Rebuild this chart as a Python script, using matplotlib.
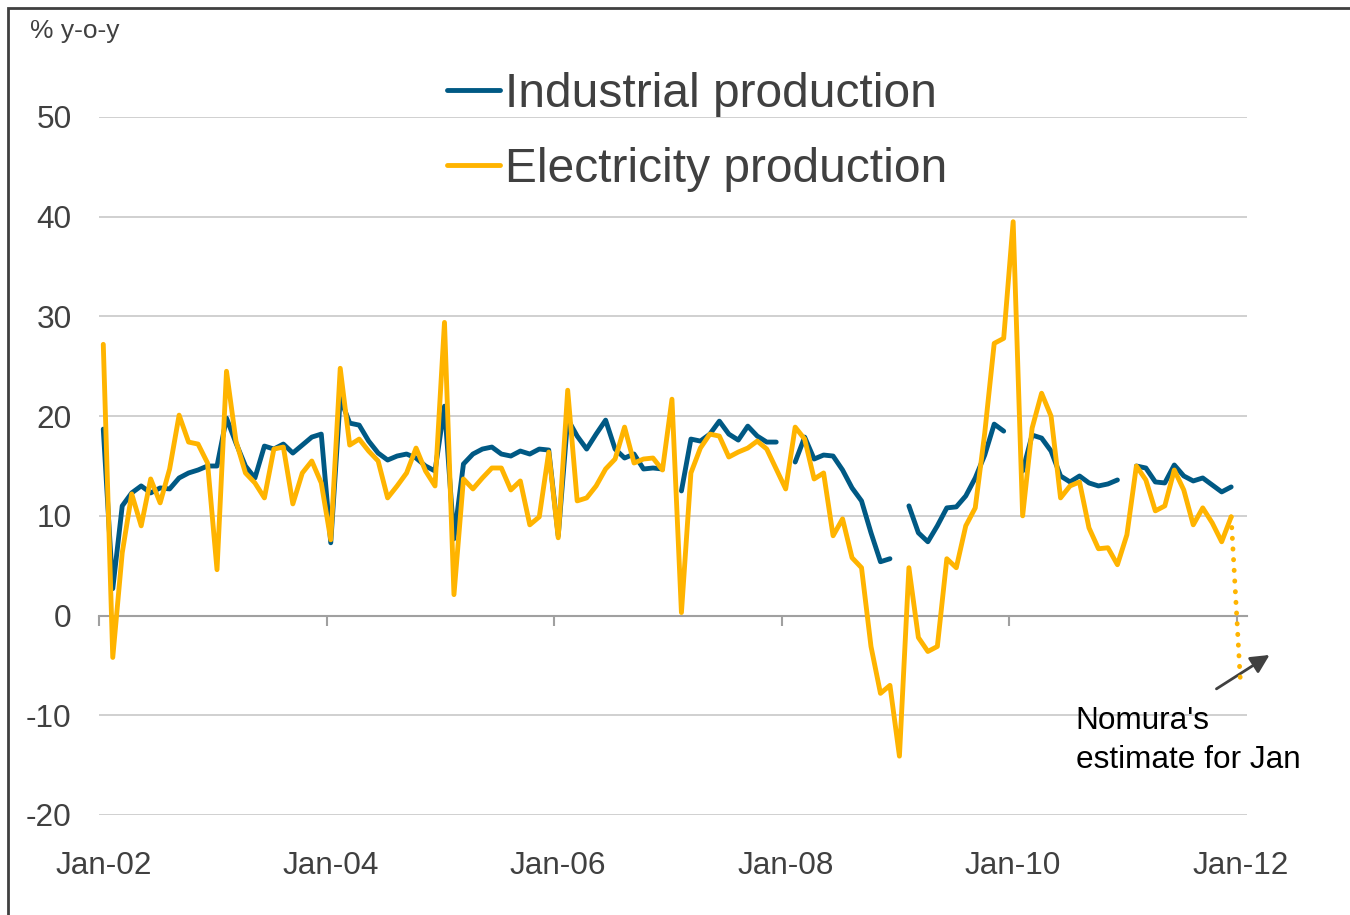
import numpy as np
import matplotlib.pyplot as plt
from matplotlib.patches import Rectangle

plt.rcParams['font.family'] = ['Liberation Sans', 'DejaVu Sans']
plt.rcParams['axes.unicode_minus'] = False

# monthly y-o-y growth, Jan-02 .. Dec-11 (nan = not published)
industrial = [
    18.7, 2.7, 11.0, 12.3, 13.0, 12.3, 12.8, 12.7, 13.8, 14.3, 14.6, 15.0,   # 2002
    15.0, 19.8, 17.3, 15.0, 13.8, 17.0, 16.7, 17.2, 16.3, 17.1, 17.9, 18.2,  # 2003
    7.3, 21.8, 19.3, 19.1, 17.5, 16.3, 15.6, 16.0, 16.2, 15.8, 15.0, 14.5,   # 2004
    21.0, 7.7, 15.2, 16.2, 16.7, 16.9, 16.2, 16.0, 16.5, 16.2, 16.7, 16.6,   # 2005
    8.0, 19.7, 18.0, 16.7, 18.2, 19.6, 16.7, 15.8, 16.2, 14.7, 14.8, 14.7,   # 2006
    np.nan, 12.5, 17.7, 17.5, 18.2, 19.5, 18.2, 17.6, 19.0, 18.0, 17.4, 17.4,  # 2007
    np.nan, 15.4, 17.9, 15.7, 16.1, 16.0, 14.6, 12.8, 11.5, 8.3, 5.4, 5.7,     # 2008
    np.nan, 11.0, 8.3, 7.4, 9.0, 10.8, 10.9, 12.0, 13.8, 16.1, 19.2, 18.5,     # 2009
    np.nan, 14.5, 18.1, 17.8, 16.5, 14.0, 13.4, 14.0, 13.3, 13.0, 13.2, 13.6,  # 2010
    np.nan, 15.0, 14.8, 13.4, 13.3, 15.1, 14.0, 13.5, 13.8, 13.1, 12.4, 12.9,  # 2011
]
electricity = [
    27.2, -4.2, 6.3, 12.2, 9.0, 13.7, 11.3, 14.7, 20.1, 17.4, 17.2, 15.3,    # 2002
    4.6, 24.5, 17.5, 14.3, 13.3, 11.8, 16.7, 16.9, 11.2, 14.3, 15.5, 13.3,   # 2003
    7.6, 24.8, 17.1, 17.7, 16.5, 15.5, 11.8, 13.0, 14.3, 16.8, 14.5, 13.0,   # 2004
    29.4, 2.1, 13.7, 12.7, 13.8, 14.8, 14.8, 12.6, 13.5, 9.1, 9.9, 16.4,     # 2005
    7.8, 22.6, 11.5, 11.8, 13.0, 14.7, 15.7, 18.9, 15.3, 15.7, 15.8, 14.6,   # 2006
    21.7, 0.3, 14.3, 16.8, 18.2, 18.0, 15.9, 16.4, 16.8, 17.5, 16.7, 14.7,   # 2007
    12.7, 18.9, 17.7, 13.7, 14.3, 8.0, 9.7, 5.8, 4.8, -3.1, -7.8, -7.0,      # 2008
    -14.1, 4.8, -2.2, -3.6, -3.1, 5.7, 4.8, 9.0, 10.8, 18.3, 27.3, 27.8,     # 2009
    39.5, 10.0, 18.8, 22.3, 20.0, 11.8, 13.0, 13.4, 8.8, 6.7, 6.8, 5.1,      # 2010
    8.1, 15.0, 13.6, 10.5, 11.0, 14.6, 12.6, 9.1, 10.8, 9.3, 7.4, 9.9,       # 2011
]
nomura_jan12 = -7.0
tick_labels = ['Jan-02', 'Jan-04', 'Jan-06', 'Jan-08', 'Jan-10', 'Jan-12']

BLUE = '#005984'
YELLOW = '#FFB400'
GREY_TXT = '#404040'
LW = 3.5

months = np.arange(len(industrial))

fig = plt.figure(figsize=(13.5, 9.15), dpi=100)
ax = fig.add_axes([99.3 / 1350, 1 - 815 / 915, (1246.7 - 99.3) / 1350, 698 / 915])

ax.plot(months, industrial, color=BLUE, lw=LW, zorder=3,
        solid_joinstyle='round', solid_capstyle='round', label='Industrial production')
ax.plot(months, electricity, color=YELLOW, lw=LW, zorder=4,
        solid_joinstyle='round', solid_capstyle='round', label='Electricity production')
# Nomura's estimate for Jan-12, dotted
ax.plot([months[-1], months[-1] + 1], [electricity[-1], nomura_jan12], color=YELLOW,
        lw=LW, ls=(0, (0.05, 2.15)), dash_capstyle='round', zorder=4, clip_on=False)

ax.set_xlim(-0.42, 120.64)
ax.set_ylim(-20, 50)
ax.set_yticks(range(-20, 51, 10))
ax.grid(axis='y', color='#D0D0D0', lw=1.4)
ax.set_axisbelow(True)
ax.tick_params(axis='y', length=0, pad=20, labelsize=22.7, labelcolor=GREY_TXT)

for s in ['left', 'right', 'top']:
    ax.spines[s].set_visible(False)
ax.spines['bottom'].set_position(('data', 0))
ax.spines['bottom'].set_color('#A0A0A0')
ax.spines['bottom'].set_linewidth(1.5)
ax.set_xticks(np.arange(0, 121, 24) - 0.42)
ax.tick_params(axis='x', length=7, width=1.5, color='#A0A0A0', labelbottom=False)

sec = ax.secondary_xaxis(0)
sec.set_xticks(np.arange(0, 121, 24), tick_labels)
sec.tick_params(length=0, pad=26, labelsize=22.7, labelcolor=GREY_TXT)
sec.spines['bottom'].set_visible(False)

leg = ax.legend(loc='center left', bbox_to_anchor=(447 / 1350, 1 - 132 / 915),
                bbox_transform=fig.transFigure, frameon=False, fontsize=34.5,
                handlelength=1.1, handletextpad=0.12, labelspacing=0.62,
                borderpad=0, borderaxespad=0)
for t in leg.get_texts():
    t.set_color(GREY_TXT)

fig.text(30 / 1350, 1 - 31 / 915, '% y-o-y', fontsize=19, color=GREY_TXT, va='center')

ax.annotate('', xy=(123.3, -3.8), xytext=(117.2, -7.5), annotation_clip=False,
            arrowprops=dict(arrowstyle='-|>', color='#404040', lw=2, mutation_scale=28))
ax.text(102.6, -12.5, "Nomura's\nestimate for Jan", fontsize=22.7, color='black',
        ha='left', va='center', linespacing=1.38, clip_on=False)

fig.add_artist(Rectangle((8.3 / 1350, -0.1), 1.2, 1.1 - 8 / 915, transform=fig.transFigure,
                         fill=False, ec='#404040', lw=2))

fig.savefig('out.png', dpi=100)
